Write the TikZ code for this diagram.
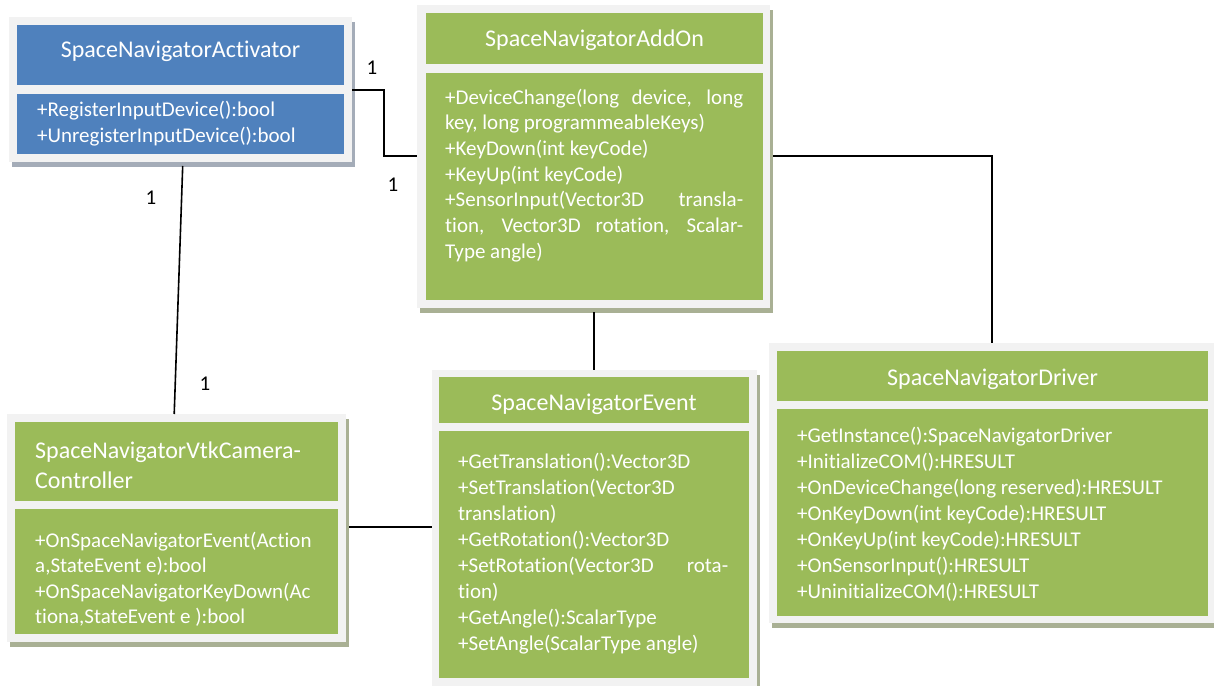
\documentclass[tikz,border=0pt]{standalone}
\usepackage{fontspec}
\setmainfont{Carlito}[Ligatures=NoCommon]
\usetikzlibrary{shadows}
\definecolor{ublue}{HTML}{4F81BD}
\definecolor{ugreen}{HTML}{9BBB59}
\definecolor{uframe}{HTML}{F2F2F2}
\definecolor{shblue}{HTML}{A4ACB8}
\definecolor{shgreen}{HTML}{A9B094}
\begin{document}
\begin{tikzpicture}[x=1pt,y=-1pt,
  frame/.style={fill=uframe, draw=none, inner sep=0pt, anchor=north west,
    general shadow={fill=#1, shadow xshift=3pt, shadow yshift=-4.5pt}},
  frame/.default=shgreen,
  inbox/.style={fill=#1, draw=none, inner sep=0pt, anchor=north west},
  inbox/.default=ugreen,
  titletext/.style={text=white, inner sep=0pt, font=\fontsize{24}{30}\selectfont},
  bodytext/.style={text=white, inner sep=0pt, anchor=north west, align=left,
    font=\fontsize{21}{26}\selectfont},
  mult/.style={text=black, inner sep=0pt, font=\fontsize{21}{26}\selectfont},
  conn/.style={draw=black, line width=1.6pt}
]
\useasboundingbox (0,0) rectangle (1214,685);

% ---------------- SpaceNavigatorActivator
\node[frame=shblue, minimum width=343pt, minimum height=145pt] (act) at (9,17) {};
\node[inbox=ublue, minimum width=327pt, minimum height=60pt] (actT) at (17,25) {};
\node[inbox=ublue, minimum width=327pt, minimum height=60pt] (actA) at (17,94) {};
\node[titletext, anchor=base] (actN) at (180.5,58) {SpaceNavigatorActivator};
\node[bodytext] (actL) at (37,97.8) {\strut+RegisterInputDevice():bool\\+UnregisterInputDevice():bool};

% ---------------- SpaceNavigatorAddOn
\node[frame, minimum width=353pt, minimum height=303pt] (add) at (417,5) {};
\node[inbox, minimum width=337pt, minimum height=51pt] (addT) at (426,13) {};
\node[inbox, minimum width=337pt, minimum height=227pt] (addA) at (426,73) {};
\node[titletext, anchor=base] (addN) at (594.5,46) {SpaceNavigatorAddOn};
\node[bodytext, font=\fontsize{21}{25.7}\selectfont] (addL) at (445,86) {\strut\makebox[298pt][s]{+DeviceChange(long device, long}\\
key, long programmeableKeys)\\
+KeyDown(int keyCode)\\
+KeyUp(int keyCode)\\
\makebox[298pt][s]{+SensorInput(Vector3D transla-}\\
\makebox[298pt][s]{tion, Vector3D rotation, Scalar-}\\
Type angle)};

% ---------------- SpaceNavigatorVtkCameraController
\node[frame, minimum width=339pt, minimum height=228pt] (cam) at (7,414) {};
\node[inbox, minimum width=323pt, minimum height=79pt] (camT) at (15,422) {};
\node[inbox, minimum width=323pt, minimum height=125pt] (camA) at (15,509) {};
\node[titletext, anchor=north west, align=left] (camN) at (35,437) {\strut SpaceNavigatorVtkCamera-\\Controller};
\node[bodytext, font=\fontsize{21}{25.5}\selectfont] (camL) at (35,529.2) {\strut+OnSpaceNavigatorEvent(Action\\
a,StateEvent e):bool\\
+OnSpaceNavigatorKeyDown(Ac\\
tiona,StateEvent e ):bool};

% ---------------- SpaceNavigatorEvent
\node[frame, minimum width=325pt, minimum height=316pt] (evt) at (432,370) {};
\node[inbox, minimum width=310pt, minimum height=46pt] (evtT) at (439,377) {};
\node[inbox, minimum width=310pt, minimum height=247pt] (evtA) at (439,431) {};
\node[titletext, anchor=base] (evtN) at (594,410) {SpaceNavigatorEvent};
\node[bodytext] (evtL) at (458,449.8) {\strut+GetTranslation():Vector3D\\
+SetTranslation(Vector3D\\
translation)\\
+GetRotation():Vector3D\\
\makebox[270pt][s]{+SetRotation(Vector3D rota-}\\
tion)\\
+GetAngle():ScalarType\\
+SetAngle(ScalarType angle)};

% ---------------- SpaceNavigatorDriver
\node[frame, minimum width=446pt, minimum height=280pt] (drv) at (769,343) {};
\node[inbox, minimum width=431pt, minimum height=50pt] (drvT) at (777,351) {};
\node[inbox, minimum width=431pt, minimum height=207pt] (drvA) at (777,409) {};
\node[titletext, anchor=base] (drvN) at (992.5,385) {SpaceNavigatorDriver};
\node[bodytext] (drvL) at (797,423.8) {\strut+GetInstance():SpaceNavigatorDriver\\
+InitializeCOM():HRESULT\\
+OnDeviceChange(long reserved):HRESULT\\
+OnKeyDown(int keyCode):HRESULT\\
+OnKeyUp(int keyCode):HRESULT\\
+OnSensorInput():HRESULT\\
+UninitializeCOM():HRESULT};

% ---------------- connectors
\coordinate (bend1) at (384,156);
\draw[conn] (act.east |- 0,90) -| (bend1) -- (add.west |- bend1);
\draw[conn] ([xshift=2pt]act.south |- 0,166) -- ([xshift=-2.5pt]cam.north);
\draw[conn] ([yshift=-4pt]add.south -| 594,0) -- (evt.north -| 594,0);
\coordinate (bend2) at (992,156);
\draw[conn] ([xshift=3pt]add.east |- bend2) -| (drv.north -| bend2);
\draw[conn] ([xshift=3pt]cam.east |- 0,527) -- (evt.west |- 0,527);

% ---------------- multiplicities
\node[mult] (m1) at (372,68) {1};
\node[mult] (m2) at (393,185) {1};
\node[mult] (m3) at (151,198) {1};
\node[mult] (m4) at (205,384) {1};
\end{tikzpicture}
\end{document}
